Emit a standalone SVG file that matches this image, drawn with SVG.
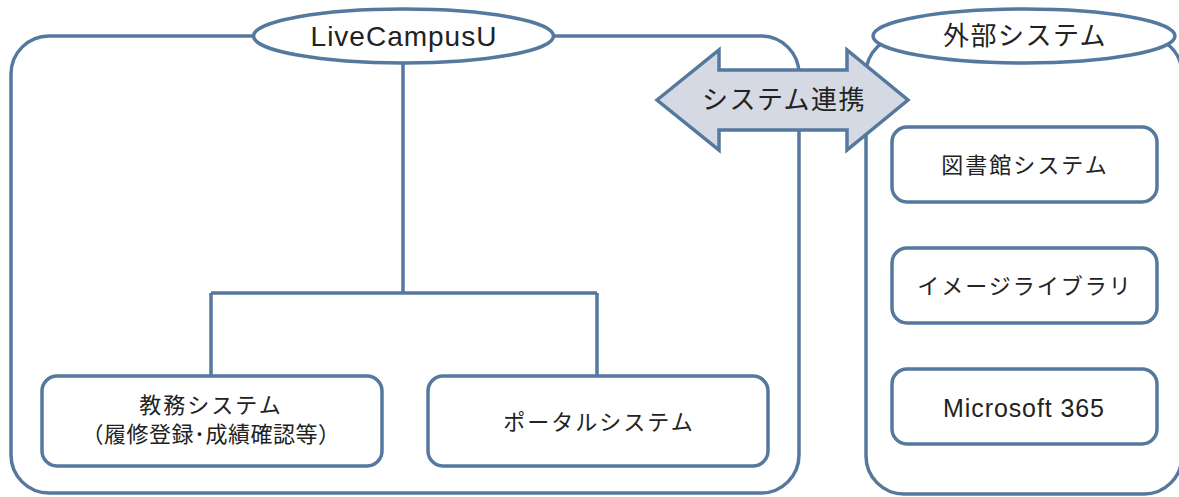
<svg xmlns="http://www.w3.org/2000/svg" width="1179" height="497" viewBox="0 0 1179 497">
<style>
.ln{fill:none;stroke:#55789e;stroke-width:3.5}
.bx{fill:#ffffff;stroke:#55789e;stroke-width:3.5}
.el{fill:#ffffff;stroke:#55789e;stroke-width:3.5}
.jp{font-family:"Noto Sans CJK JP","Liberation Sans",sans-serif;fill:#222222;text-anchor:middle}
.en{font-family:"Liberation Sans","Noto Sans CJK JP",sans-serif;fill:#222222;text-anchor:middle}
</style>
<rect width="1179" height="497" fill="#ffffff"/>
<g id="container-livecampusu">
<rect class="ln" x="11" y="36" width="788" height="457" rx="38" ry="38"/>
</g>
<g id="container-external">
<rect class="ln" x="866" y="36" width="316" height="458" rx="38" ry="38"/>
</g>
<g id="connectors">
<path class="ln" d="M403,64 V293 M211,293 H597 M211,293 V376 M597,293 V376"/>
</g>
<g id="node-livecampusu">
<ellipse class="el" cx="403.5" cy="36" rx="150" ry="27"/>
<text class="en" x="404" y="46" font-size="28" letter-spacing="1">LiveCampusU</text>
</g>
<g id="node-external">
<ellipse class="el" cx="1024" cy="36" rx="151" ry="27"/>
<text class="jp" x="1025" y="45" font-size="26" letter-spacing="1.5">外部システム</text>
</g>
<g id="node-kyomu">
<rect class="bx" x="42" y="376" width="340" height="90" rx="15" ry="15"/>
<text class="jp" x="211" y="413" font-size="22" letter-spacing="2">教務システム</text>
<text class="jp" x="211" y="442" font-size="22" letter-spacing="0.5">（履修登録･成績確認等）</text>
</g>
<g id="node-portal">
<rect class="bx" x="428" y="376" width="340" height="90" rx="15" ry="15"/>
<text class="jp" x="599" y="430" font-size="22" letter-spacing="2">ポータルシステム</text>
</g>
<g id="node-library">
<rect class="bx" x="892" y="127" width="265" height="75" rx="15" ry="15"/>
<text class="jp" x="1025" y="173" font-size="22" letter-spacing="2">図書館システム</text>
</g>
<g id="node-image">
<rect class="bx" x="892" y="248" width="265" height="75" rx="15" ry="15"/>
<text class="jp" x="1025" y="294" font-size="22" letter-spacing="2">イメージライブラリ</text>
</g>
<g id="node-microsoft">
<rect class="bx" x="892" y="369" width="265" height="75" rx="15" ry="15"/>
<text class="en" x="1024" y="417" font-size="25" letter-spacing="0.9">Microsoft 365</text>
</g>
<g id="node-renkei">
<polygon points="657,100 719,50 719,70 847,70 847,50 908,100 847,150 847,130 719,130 719,150" fill="#d4d9e4" stroke="#55789e" stroke-width="3.5" stroke-linejoin="miter"/>
<text class="jp" x="784" y="109" font-size="26" letter-spacing="1.5">システム連携</text>
</g>
</svg>
